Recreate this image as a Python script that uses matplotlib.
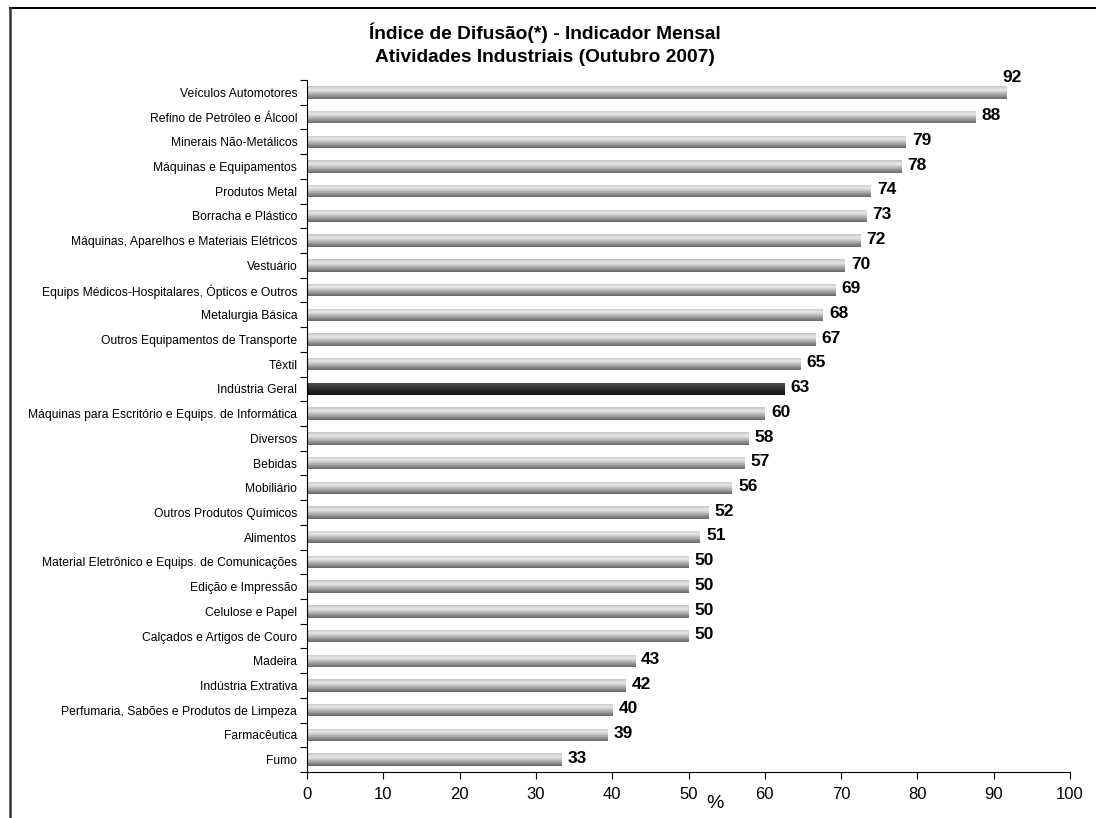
import numpy as np
import matplotlib
matplotlib.use("Agg")
import matplotlib.pyplot as plt
from matplotlib.colors import LinearSegmentedColormap
from matplotlib.lines import Line2D

plt.rcParams['font.family'] = ['Liberation Sans', 'DejaVu Sans']

# data, top to bottom
categories = [
    "Veículos Automotores",
    "Refino de Petróleo e Álcool",
    "Minerais Não-Metálicos",
    "Máquinas e Equipamentos",
    "Produtos Metal",
    "Borracha e Plástico",
    "Máquinas, Aparelhos e Materiais Elétricos",
    "Vestuário",
    "Equips Médicos-Hospitalares, Ópticos e Outros",
    "Metalurgia Básica",
    "Outros Equipamentos de Transporte",
    "Têxtil",
    "Indústria Geral",
    "Máquinas para Escritório e Equips. de Informática",
    "Diversos",
    "Bebidas",
    "Mobiliário",
    "Outros Produtos Químicos",
    "Alimentos",
    "Material Eletrônico e Equips. de Comunicações",
    "Edição e Impressão",
    "Celulose e Papel",
    "Calçados e Artigos de Couro",
    "Madeira",
    "Indústria Extrativa",
    "Perfumaria, Sabões e Produtos de Limpeza",
    "Farmacêutica",
    "Fumo",
]
values = [91.7, 87.6, 78.5, 77.9, 73.9, 73.3, 72.5, 70.5, 69.3, 67.6, 66.6, 64.7,
          62.6, 60.0, 57.8, 57.3, 55.7, 52.6, 51.5, 50.0, 50.0, 50.0, 50.0, 43.0,
          41.8, 40.0, 39.4, 33.3]
labels = [92, 88, 79, 78, 74, 73, 72, 70, 69, 68, 67, 65, 63, 60, 58, 57, 56, 52,
          51, 50, 50, 50, 50, 43, 42, 40, 39, 33]
highlight = "Indústria Geral"

grey_cmap = LinearSegmentedColormap.from_list(
    "grey", [(0, "#c4c4c4"), (0.3, "#e8e8e8"), (0.65, "#a8a8a8"), (1, "#666666")])
dark_cmap = LinearSegmentedColormap.from_list(
    "dark", [(0, "#5a5a5a"), (0.3, "#3c3c3c"), (1, "#101010")])

fig = plt.figure(figsize=(10.96, 8.18), dpi=100)
ax = fig.add_axes([307 / 1096, 1 - 772 / 818, (1070 - 307) / 1096, (772 - 80) / 818])

y = np.arange(len(categories))
bar_h = 0.5
bars = ax.barh(y, values, height=bar_h, color="none", edgecolor="none")

grad = np.linspace(0, 1, 64).reshape(-1, 1)
for cat, rect, yy in zip(categories, bars, y):
    cmap = dark_cmap if cat == highlight else grey_cmap
    im = ax.imshow(grad, cmap=cmap, aspect="auto", interpolation="bilinear",
                   extent=[0, rect.get_width(), yy + bar_h / 2, yy - bar_h / 2],
                   origin="upper", zorder=2)
    im.set_clip_path(rect)

for yy, v, lab in zip(y, values, labels):
    if v > 90:
        ax.text(v - 0.5, yy - 0.6, str(lab), ha="left", va="center",
                fontsize=12.5, fontweight="bold")
    else:
        ax.text(v + 0.8, yy - 0.05, str(lab), ha="left", va="center",
                fontsize=12.5, fontweight="bold")

ax.set_xlim(0, 100)
ax.set_ylim(len(categories) - 0.5, -0.5)
ax.set_xticks(np.arange(0, 101, 10))
ax.set_yticks(y)
ax.set_yticklabels(categories, fontsize=8.7)
ax.set_yticks(np.arange(-0.5, len(categories)), minor=True)
ax.tick_params(axis="y", which="major", length=0, pad=7)
ax.tick_params(axis="y", which="minor", length=5, direction="out", width=0.8)
ax.tick_params(axis="x", length=5, direction="out", width=0.8, labelsize=12, pad=6)

for s in ("top", "right"):
    ax.spines[s].set_visible(False)
for s in ("left", "bottom"):
    ax.spines[s].set_linewidth(0.8)

fig.text(545 / 1096, 1 - 33 / 818, "Índice de Difusão(*) - Indicador Mensal",
         ha="center", va="center", fontsize=13.8, fontweight="bold")
fig.text(545 / 1096, 1 - 58 / 818, "Atividades Industriais (Outubro 2007)",
         ha="center", va="center", fontsize=13.8, fontweight="bold")
fig.text(715 / 1096, 1 - 804 / 818, "%", ha="center", va="center", fontsize=14)

# outer frame (top and left)
fig.add_artist(Line2D([9.5 / 1096, 1], [1 - 7.5 / 818, 1 - 7.5 / 818],
                      transform=fig.transFigure, color="black", lw=1.5))
fig.add_artist(Line2D([9.5 / 1096, 9.5 / 1096], [0, 1 - 7.5 / 818],
                      transform=fig.transFigure, color="#333333", lw=1.8))

fig.savefig("out.png", dpi=100)
